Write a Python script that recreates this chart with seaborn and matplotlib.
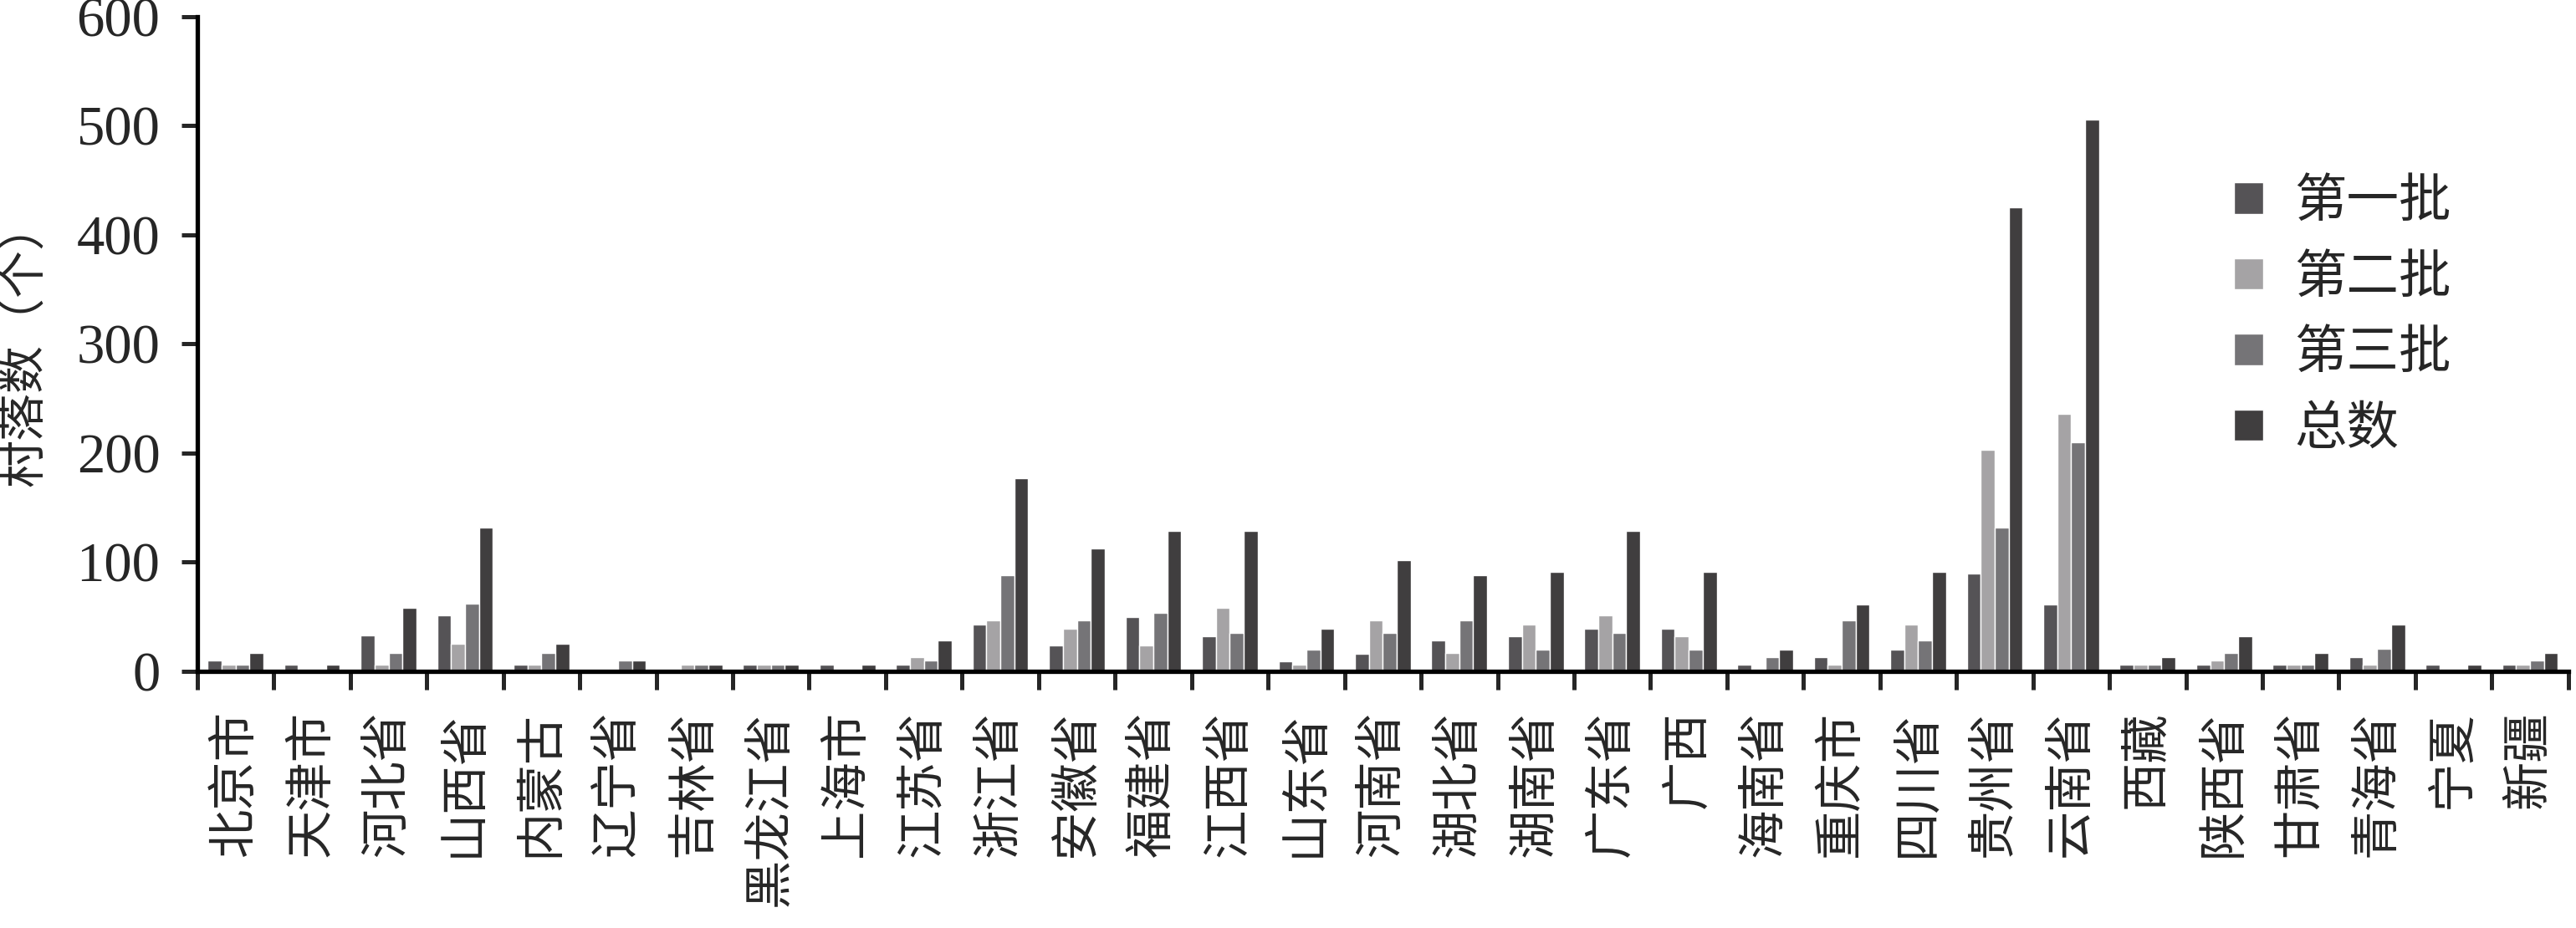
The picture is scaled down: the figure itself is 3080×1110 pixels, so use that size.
import numpy as np
import pandas as pd
import matplotlib
matplotlib.use('Agg')
import matplotlib.pyplot as plt
import seaborn as sns

# data
provinces = ['北京市', '天津市', '河北省', '山西省', '内蒙古', '辽宁省', '吉林省', '黑龙江省',
             '上海市', '江苏省', '浙江省', '安徽省', '福建省', '江西省', '山东省', '河南省',
             '湖北省', '湖南省', '广东省', '广西', '海南省', '重庆市', '四川省', '贵州省',
             '云南省', '西藏', '陕西省', '甘肃省', '青海省', '宁夏', '新疆']
batch_names = ['第一批', '第二批', '第三批', '总数']

first = [10, 6, 33, 51, 6, 0, 0, 6, 6, 6, 43, 24, 50, 32, 9, 16,
         28, 32, 39, 39, 6, 13, 20, 90, 61, 6, 6, 6, 13, 6, 6]
second = [6, 0, 6, 25, 6, 0, 6, 6, 0, 13, 47, 39, 24, 58, 6, 47,
          17, 43, 51, 32, 0, 6, 43, 203, 236, 6, 10, 6, 6, 0, 6]
third = [6, 0, 17, 62, 17, 10, 6, 6, 0, 10, 88, 47, 54, 35, 20, 35,
         47, 20, 35, 20, 13, 47, 28, 132, 210, 6, 17, 6, 21, 0, 10]
total = [17, 6, 58, 132, 25, 10, 6, 6, 6, 28, 177, 113, 129, 129, 39, 102,
         88, 91, 129, 91, 20, 61, 91, 425, 506, 13, 32, 17, 43, 6, 17]

colors = ['#555356', '#a5a2a6', '#757377', '#403e3f']

df = pd.DataFrame({
    '省份': provinces * 4,
    '批次': np.repeat(batch_names, len(provinces)),
    '数量': first + second + third + total,
})

sns.set_style('white')
plt.rcParams['font.family'] = ['Liberation Serif', 'Noto Sans CJK SC']

fig = plt.figure(figsize=(30.8, 11.1), dpi=100)
ax = fig.add_axes([0.0766, 0.2766, 0.9204, 0.7054])

sns.barplot(data=df, x='省份', y='数量', hue='批次', palette=colors,
            width=0.73, edgecolor='white', linewidth=1, ax=ax)

ax.set_ylim(0, 600)
ax.set_xlim(-0.5, len(provinces) - 0.5)
ax.set_yticks(range(0, 601, 100))
ax.tick_params(axis='y', labelsize=48, length=14, width=3.6, direction='out', pad=18, left=True)
ax.set_xticks(range(len(provinces)))
ax.set_xticklabels(provinces, rotation=90, fontsize=42)
ax.set_xticks(np.arange(-0.5, len(provinces)), minor=True)
ax.tick_params(axis='x', which='major', length=0, pad=34)
ax.tick_params(axis='x', which='minor', length=16, width=3.6, direction='out', bottom=True)

for side in ['top', 'right']:
    ax.spines[side].set_visible(False)
for side in ['left', 'bottom']:
    ax.spines[side].set_linewidth(3.8)
    ax.spines[side].set_color('black')

ax.set_xlabel('')
ax.set_ylabel('村落数（个）', fontsize=41, labelpad=24)

ax.legend(title=None, frameon=False, loc='upper left', bbox_to_anchor=(0.849, 0.857),
          bbox_transform=fig.transFigure, fontsize=45, handlelength=0.55,
          handleheight=0.55, handletextpad=0.6, labelspacing=0.52)

fig.savefig('out.png', dpi=100)
